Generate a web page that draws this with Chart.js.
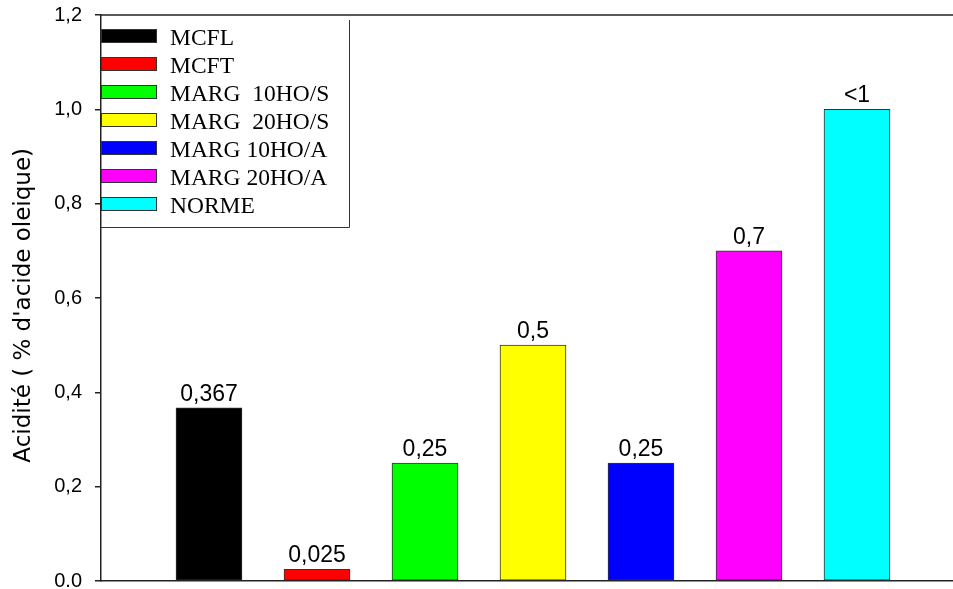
<!DOCTYPE html>
<html lang="fr">
<head>
    <meta charset="UTF-8">
    <title>Acidité</title>
    <script src="https://cdn.jsdelivr.net/npm/chart.js"></script>
    <style>
        html, body { margin: 0; padding: 0; background: #ffffff; }
        #wrap { width: 953px; height: 589px; position: relative; }
    </style>
</head>
<body>
    <div id="wrap"><canvas id="chart"></canvas></div>

    <script>
        // data
        const samples = ['MCFL', 'MCFT', 'MARG  10HO/S', 'MARG  20HO/S', 'MARG 10HO/A', 'MARG 20HO/A', 'NORME'];
        const acidity = [0.367, 0.025, 0.25, 0.5, 0.25, 0.7, 1.0];
        const valueLabels = ['0,367', '0,025', '0,25', '0,5', '0,25', '0,7', '<1'];
        const yTickLabels = ['0.0', '0,2', '0,4', '0,6', '0,8', '1,0', '1,2'];
        const barColors = ['#000000', '#ff0000', '#00ff00', '#ffff00', '#0000ff', '#ff00ff', '#00ffff'];

        const axisColor = '#222222';

        // value labels above each bar + top frame line
        const barLabels = {
            id: 'barLabels',
            afterDatasetsDraw(chart) {
                const ctx = chart.ctx;
                const meta = chart.getDatasetMeta(0);
                ctx.save();
                ctx.fillStyle = '#000';
                ctx.font = '23px "Liberation Sans", Arial, sans-serif';
                ctx.textAlign = 'center';
                ctx.textBaseline = 'bottom';
                meta.data.forEach((bar, i) => {
                    ctx.fillText(valueLabels[i], bar.x, bar.y - 2);
                });
                // top line of the frame
                const a = chart.chartArea;
                ctx.strokeStyle = axisColor;
                ctx.lineWidth = 1.5;
                ctx.beginPath();
                ctx.moveTo(a.left, a.top);
                ctx.lineTo(a.right, a.top);
                ctx.stroke();
                ctx.restore();
            }
        };

        // legend box in the upper left corner of the plot
        const boxLegend = {
            id: 'boxLegend',
            afterDraw(chart) {
                const ctx = chart.ctx;
                const a = chart.chartArea;
                const boxRight = a.left + 248.5;
                const boxBottom = 227.5;
                ctx.save();
                ctx.strokeStyle = '#333';
                ctx.lineWidth = 1;
                ctx.beginPath();
                ctx.moveTo(boxRight, 20);
                ctx.lineTo(boxRight, boxBottom);
                ctx.lineTo(a.left, boxBottom);
                ctx.stroke();

                ctx.font = '23.5px "Liberation Serif", "Times New Roman", serif';
                ctx.textBaseline = 'middle';
                ctx.textAlign = 'left';
                samples.forEach((name, i) => {
                    const cy = 36 + i * 28;
                    ctx.fillStyle = barColors[i];
                    ctx.fillRect(a.left, cy - 6.5, 56, 13);
                    ctx.strokeStyle = '#333';
                    ctx.strokeRect(a.left + 0.5, cy - 6.5, 55, 13);
                    ctx.fillStyle = '#000';
                    ctx.fillText(name, 170, cy + 3);
                });
                ctx.restore();
            }
        };

        new Chart(document.getElementById('chart'), {
            type: 'bar',
            data: {
                datasets: [{
                    data: acidity.map((v, i) => ({ x: i + 1, y: v })),
                    backgroundColor: barColors,
                    borderColor: '#333333',
                    borderWidth: 1,
                    borderSkipped: false,
                    barThickness: 66
                }]
            },
            options: {
                responsive: true,
                maintainAspectRatio: false,
                animation: false,
                layout: { padding: { top: 15, right: 0, bottom: 8, left: 0 } },
                plugins: {
                    legend: { display: false },
                    tooltip: { enabled: false }
                },
                scales: {
                    x: {
                        type: 'linear',
                        min: 0,
                        max: 7.889,
                        offset: false,
                        grid: { display: false },
                        ticks: { display: false },
                        border: { display: true, color: axisColor, width: 1.5 },
                        afterFit(scale) {
                            scale.height = 0;
                            scale.paddingLeft = 0;
                            scale.paddingRight = 0;
                        }
                    },
                    y: {
                        min: 0,
                        max: 1.2,
                        ticks: {
                            stepSize: 0.2,
                            padding: 13,
                            color: '#000',
                            font: { family: '"Liberation Sans", Arial, sans-serif', size: 20 },
                            callback: (v, i) => yTickLabels[i]
                        },
                        grid: { drawOnChartArea: false, drawTicks: true, tickLength: 6, color: axisColor, lineWidth: 1.5 },
                        border: { display: true, color: axisColor, width: 1.5 },
                        title: {
                            display: true,
                            text: "Acidité ( % d'acide oleique)  ",
                            color: '#000',
                            font: { family: '"DejaVu Sans", sans-serif', size: 23 },
                            padding: { top: 10, bottom: 0 }
                        },
                        afterFit(scale) {
                            scale.width = 101;
                            scale.paddingTop = 0;
                            scale.paddingBottom = 0;
                        }
                    }
                }
            },
            plugins: [barLabels, boxLegend]
        });
    </script>
</body>
</html>
